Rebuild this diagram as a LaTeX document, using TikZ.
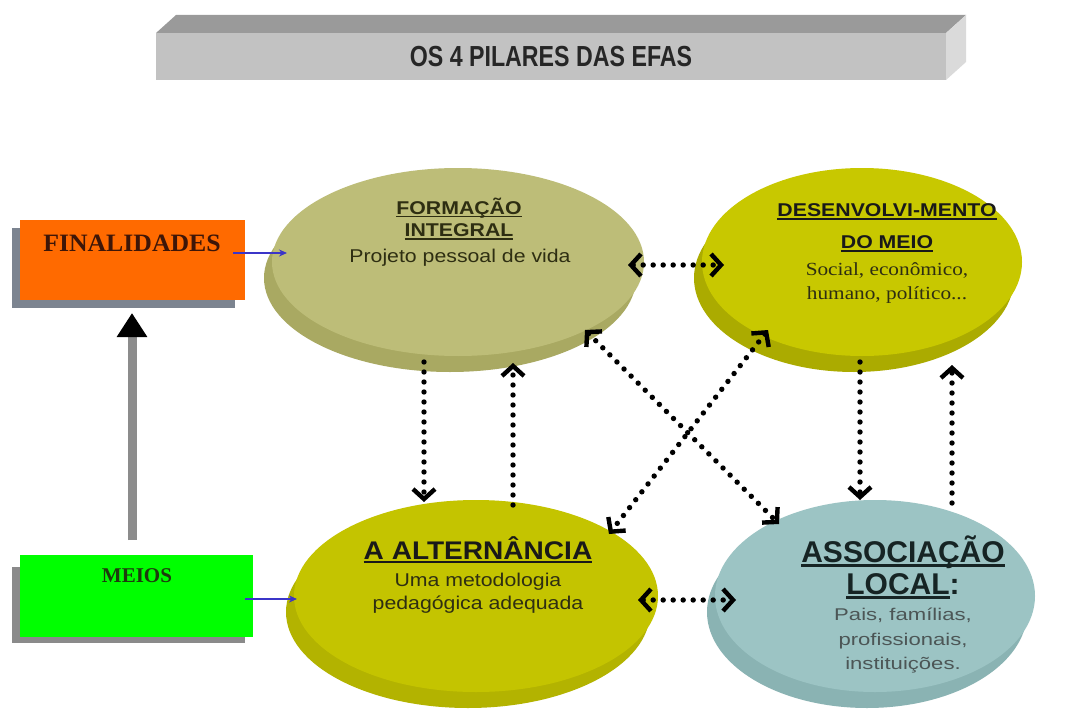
\documentclass[tikz,border=0pt]{standalone}
\usepackage{fontspec}
\setmainfont{Liberation Sans}
\newfontfamily\serifx{Liberation Serif}
\usetikzlibrary{arrows.meta,shapes.geometric}
\definecolor{bartop}{HTML}{9A9A9A}
\definecolor{barfront}{HTML}{C2C2C2}
\definecolor{barside}{HTML}{DADADA}
\definecolor{formtop}{HTML}{BDBD78}
\definecolor{formrim}{HTML}{A9A962}
\definecolor{destop}{HTML}{C8C800}
\definecolor{desrim}{HTML}{ABAB00}
\definecolor{alttop}{HTML}{C4C400}
\definecolor{altrim}{HTML}{B3B300}
\definecolor{asstop}{HTML}{9CC4C4}
\definecolor{assrim}{HTML}{8AB3B3}
\definecolor{finorange}{HTML}{FF6A00}
\definecolor{finshadow}{HTML}{7C8490}
\definecolor{meiogreen}{HTML}{00FF00}
\definecolor{meioshadow}{HTML}{8A8A8A}
\definecolor{bluearr}{HTML}{3B35C8}
\definecolor{grayshaft}{HTML}{8C8C8C}
\definecolor{darkolive}{HTML}{2E2E12}
\definecolor{graytext}{HTML}{4C5656}
\newcommand{\myul}[1]{\sbox0{#1}\rlap{\rule[-0.16em]{\wd0}{0.085em}}\usebox0}
\begin{document}
\begin{tikzpicture}[x=1pt,y=-1pt,
  txt/.style={inner sep=0pt, anchor=center},
  disc/.style={ellipse, inner sep=0pt, draw=none},
  barb/.tip={Straight Barb[length=10pt,width=22pt,line width=4.4pt]},
  dotline/.style={draw=black, line width=5.4pt, dash pattern=on 0pt off 10pt, line cap=round},
  dotarrow/.style={dotline, barb-barb},
  dotone/.style={dotline, -barb},
  bluearrow/.style={draw=bluearr, line width=1.5pt, -{Stealth[length=8pt,width=7pt]}}
]
\useasboundingbox (0,0) rectangle (1071,709);
\fill[white] (0,0) rectangle (1071,709);

% title bar
\fill[bartop] (156,33) -- (176,15) -- (966,15) -- (946,33) -- cycle;
\fill[barfront] (156,33) rectangle (946,80);
\fill[barside] (946,33) -- (966,15) -- (966,62) -- (946,80) -- cycle;
\node[txt, xscale=0.8, text=black!85, font=\fontsize{29}{32}\selectfont\bfseries] (title) at (551,57) {OS 4 PILARES DAS EFAS};

% boxes
\fill[finshadow] (12,228) rectangle (235,308);
\node[rectangle, fill=finorange, minimum width=225pt, minimum height=80pt, inner sep=0pt, anchor=north west] (fin) at (20,220) {};
\node[txt, xscale=1.03, text={rgb,255:red,62;green,22;blue,8}, font=\serifx\fontsize{25}{28}\selectfont\bfseries] (fintext) at (132,243) {FINALIDADES};

\fill[meioshadow] (12,567) rectangle (245,643);
\node[rectangle, fill=meiogreen, minimum width=233pt, minimum height=82pt, inner sep=0pt, anchor=north west] (meios) at (20,555) {};
\node[txt, text={rgb,255:red,30;green,58;blue,14}, font=\serifx\fontsize{21}{24}\selectfont\bfseries] (meiostext) at (137,576) {MEIOS};

% ellipses
\node[disc, fill=formrim, minimum width=372pt, minimum height=188pt] (formr) at (450,278) {};
\node[disc, fill=formtop, minimum width=372pt, minimum height=188pt] (form) at (458,262) {};
\node[disc, fill=desrim, minimum width=320pt, minimum height=188pt] (desr) at (854,278) {};
\node[disc, fill=destop, minimum width=320pt, minimum height=188pt] (des) at (862,262) {};
\node[disc, fill=altrim, minimum width=364pt, minimum height=192pt] (altr) at (468,612) {};
\node[disc, fill=alttop, minimum width=364pt, minimum height=192pt] (alt) at (476,596) {};
\node[disc, fill=assrim, minimum width=320pt, minimum height=192pt] (assr) at (867,612) {};
\node[disc, fill=asstop, minimum width=320pt, minimum height=192pt] (ass) at (875,596) {};

% texts: formacao
\node[txt, xscale=1.15, text=darkolive, font=\fontsize{18.5}{20}\selectfont\bfseries] (f1) at (459,208) {\myul{FORMAÇÃO}};
\node[txt, xscale=1.15, text=darkolive, font=\fontsize{18.5}{20}\selectfont\bfseries] (f2) at (459,232) {\myul{INTEGRAL}};
\node[txt, xscale=1.15, text=darkolive, font=\fontsize{18.5}{20}\selectfont] (f3) at (460,258) {Projeto pessoal de vida};
% desenvolvimento
\node[txt, xscale=1.15, text=black!90, font=\fontsize{18.5}{20}\selectfont\bfseries] (d1) at (887,212) {\myul{DESENVOLVI-MENTO}};
\node[txt, xscale=1.15, text=black!90, font=\fontsize{18.5}{20}\selectfont\bfseries] (d2) at (887,244) {\myul{DO MEIO}};
\node[txt, xscale=1.15, text=darkolive, font=\serifx\fontsize{18.5}{20}\selectfont] (d3) at (887,270) {Social, econômico,};
\node[txt, xscale=1.15, text=darkolive, font=\serifx\fontsize{18.5}{20}\selectfont] (d4) at (887,295) {humano, político...};
% alternancia
\node[txt, xscale=1.1, text=black!90, font=\fontsize{25.5}{28}\selectfont\bfseries] (a1) at (478,550) {\myul{A ALTERNÂNCIA}};
\node[txt, xscale=1.15, text=darkolive, font=\fontsize{18.5}{20}\selectfont] (a2) at (478,582) {Uma metodologia};
\node[txt, xscale=1.15, text=darkolive, font=\fontsize{18.5}{20}\selectfont] (a3) at (478,605) {pedagógica adequada};
% associacao
\node[txt, text={rgb,255:red,22;green,36;blue,36}, font=\fontsize{30}{32}\selectfont\bfseries] (s1) at (903,552) {\myul{ASSOCIAÇÃO}};
\node[txt, text={rgb,255:red,22;green,36;blue,36}, font=\fontsize{30}{32}\selectfont\bfseries] (s2) at (903,586) {\myul{LOCAL}:};
\node[txt, xscale=1.3, text=graytext, font=\fontsize{17}{20}\selectfont] (s3) at (903,615) {Pais, famílias,};
\node[txt, xscale=1.3, text=graytext, font=\fontsize{17}{20}\selectfont] (s4) at (903,641) {profissionais,};
\node[txt, xscale=1.3, text=graytext, font=\fontsize{17}{20}\selectfont] (s5) at (903,665) {instituições.};

% connector end points
\coordinate (c1a) at (628,265); \coordinate (c1b) at (724,265);
\coordinate (c2a) at (638,600); \coordinate (c2b) at (736,600);
\coordinate (c3a) at (424,362); \coordinate (c3b) at (424,502);
\coordinate (c4a) at (513,505); \coordinate (c4b) at (513,363);
\coordinate (c5a) at (585,330); \coordinate (c5b) at (779,524);
\coordinate (c6a) at (768,330); \coordinate (c6b) at (609,534);
\coordinate (c7a) at (860,362); \coordinate (c7b) at (860,500);
\coordinate (c8a) at (952,503); \coordinate (c8b) at (952,365);
\coordinate (b1a) at (233,253); \coordinate (b1b) at (287,253);
\coordinate (b2a) at (245,599); \coordinate (b2b) at (297,599);
\coordinate (g1a) at (132,540); \coordinate (g1b) at (132,313);

% dotted arrows
\draw[dotarrow] (c1a) -- (c1b);
\draw[dotarrow] (c2a) -- (c2b);
\draw[dotone] (c3a) -- (c3b);
\draw[dotone] (c4a) -- (c4b);
\draw[dotarrow] (c5a) -- (c5b);
\draw[dotarrow] (c6a) -- (c6b);
\draw[dotone] (c7a) -- (c7b);
\draw[dotone] (c8a) -- (c8b);

% blue arrows
\draw[bluearrow] (b1a) -- (b1b);
\draw[bluearrow] (b2a) -- (b2b);

% gray arrow
\draw[draw=grayshaft, line width=9pt, -{Triangle[length=24pt,width=29pt,color=black]}] (g1a) -- (g1b);
\end{tikzpicture}
\end{document}
